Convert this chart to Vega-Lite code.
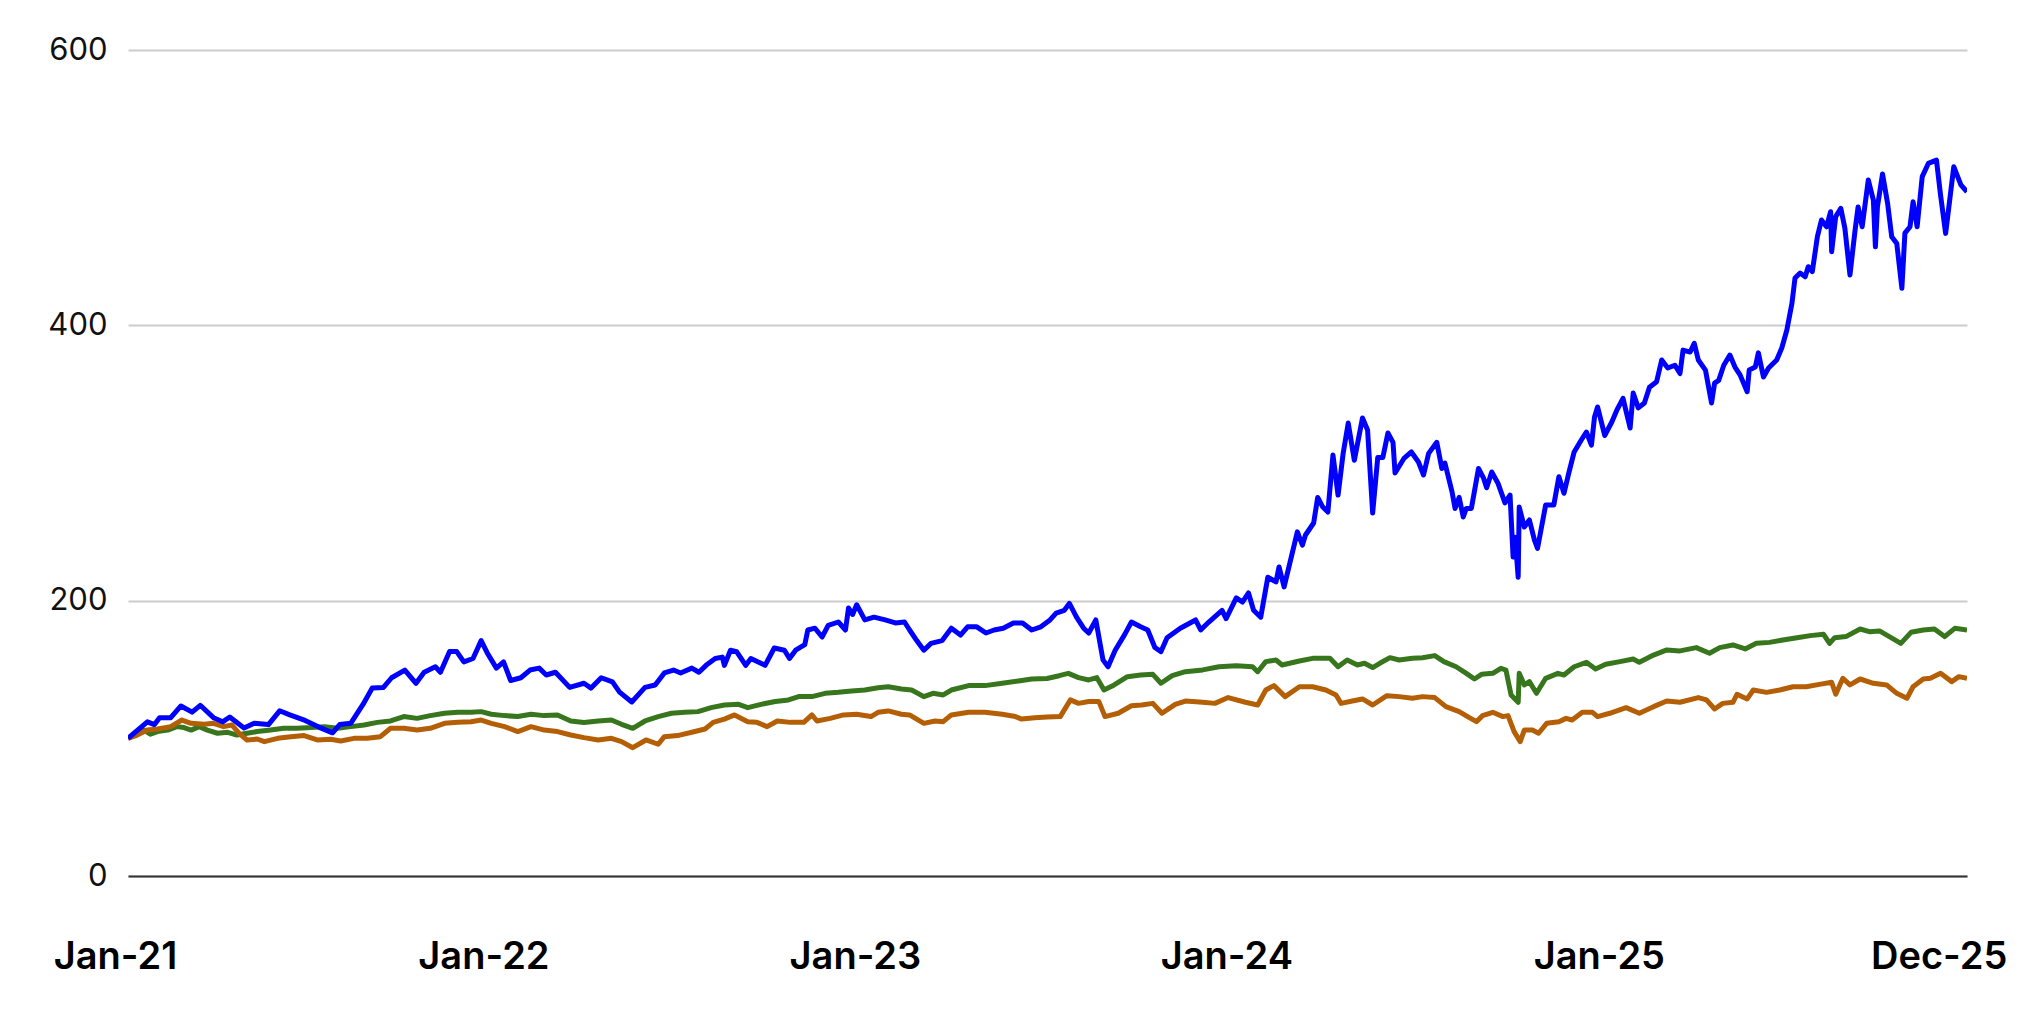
{
  "$schema": "https://vega.github.io/schema/vega-lite/v6.json",
  "width": 1839,
  "height": 826,
  "autosize": "none",
  "padding": {"left": 128, "top": 50, "right": 53, "bottom": 156},
  "background": "white",
  "config": {"view": {"stroke": null}},
  "data": {
    "values": [
      {"date": "2021-01-04", "series": "Series 3", "value": 100},
      {"date": "2021-01-13", "series": "Series 3", "value": 103.7},
      {"date": "2021-01-20", "series": "Series 3", "value": 106},
      {"date": "2021-01-26", "series": "Series 3", "value": 103},
      {"date": "2021-02-02", "series": "Series 3", "value": 104.9},
      {"date": "2021-02-12", "series": "Series 3", "value": 106},
      {"date": "2021-02-21", "series": "Series 3", "value": 108.5},
      {"date": "2021-02-28", "series": "Series 3", "value": 107.8},
      {"date": "2021-03-07", "series": "Series 3", "value": 106},
      {"date": "2021-03-15", "series": "Series 3", "value": 108.5},
      {"date": "2021-03-23", "series": "Series 3", "value": 106},
      {"date": "2021-04-02", "series": "Series 3", "value": 103.7},
      {"date": "2021-04-12", "series": "Series 3", "value": 104.4},
      {"date": "2021-04-21", "series": "Series 3", "value": 102.4},
      {"date": "2021-05-01", "series": "Series 3", "value": 103.7},
      {"date": "2021-05-11", "series": "Series 3", "value": 104.9},
      {"date": "2021-05-24", "series": "Series 3", "value": 106},
      {"date": "2021-06-06", "series": "Series 3", "value": 107.3},
      {"date": "2021-06-19", "series": "Series 3", "value": 107.3},
      {"date": "2021-07-03", "series": "Series 3", "value": 107.8},
      {"date": "2021-07-16", "series": "Series 3", "value": 108.5},
      {"date": "2021-07-29", "series": "Series 3", "value": 107.3},
      {"date": "2021-08-11", "series": "Series 3", "value": 108.5},
      {"date": "2021-08-24", "series": "Series 3", "value": 109.7},
      {"date": "2021-09-06", "series": "Series 3", "value": 111.6},
      {"date": "2021-09-19", "series": "Series 3", "value": 112.6},
      {"date": "2021-10-02", "series": "Series 3", "value": 115.8},
      {"date": "2021-10-15", "series": "Series 3", "value": 114.5},
      {"date": "2021-10-28", "series": "Series 3", "value": 116.5},
      {"date": "2021-11-11", "series": "Series 3", "value": 118.2},
      {"date": "2021-11-24", "series": "Series 3", "value": 118.9},
      {"date": "2021-12-07", "series": "Series 3", "value": 118.9},
      {"date": "2021-12-17", "series": "Series 3", "value": 119.4},
      {"date": "2021-12-27", "series": "Series 3", "value": 117.5},
      {"date": "2022-01-09", "series": "Series 3", "value": 116.5},
      {"date": "2022-01-22", "series": "Series 3", "value": 115.8},
      {"date": "2022-02-04", "series": "Series 3", "value": 117.5},
      {"date": "2022-02-17", "series": "Series 3", "value": 116.5},
      {"date": "2022-03-02", "series": "Series 3", "value": 117},
      {"date": "2022-03-15", "series": "Series 3", "value": 112.6},
      {"date": "2022-03-28", "series": "Series 3", "value": 111.5},
      {"date": "2022-04-11", "series": "Series 3", "value": 112.6},
      {"date": "2022-04-24", "series": "Series 3", "value": 113.3},
      {"date": "2022-05-04", "series": "Series 3", "value": 110.2},
      {"date": "2022-05-15", "series": "Series 3", "value": 107.3},
      {"date": "2022-05-27", "series": "Series 3", "value": 112.6},
      {"date": "2022-06-09", "series": "Series 3", "value": 115.8},
      {"date": "2022-06-22", "series": "Series 3", "value": 118.2},
      {"date": "2022-07-05", "series": "Series 3", "value": 118.9},
      {"date": "2022-07-18", "series": "Series 3", "value": 119.4},
      {"date": "2022-07-31", "series": "Series 3", "value": 122.3},
      {"date": "2022-08-13", "series": "Series 3", "value": 124.2},
      {"date": "2022-08-27", "series": "Series 3", "value": 124.7},
      {"date": "2022-09-05", "series": "Series 3", "value": 122.3},
      {"date": "2022-09-18", "series": "Series 3", "value": 124.7},
      {"date": "2022-10-02", "series": "Series 3", "value": 126.7},
      {"date": "2022-10-15", "series": "Series 3", "value": 127.9},
      {"date": "2022-10-25", "series": "Series 3", "value": 130.3},
      {"date": "2022-11-07", "series": "Series 3", "value": 130.3},
      {"date": "2022-11-20", "series": "Series 3", "value": 132.7},
      {"date": "2022-12-03", "series": "Series 3", "value": 133.4},
      {"date": "2022-12-16", "series": "Series 3", "value": 134.4},
      {"date": "2022-12-29", "series": "Series 3", "value": 135.1},
      {"date": "2023-01-11", "series": "Series 3", "value": 136.8},
      {"date": "2023-01-21", "series": "Series 3", "value": 137.5},
      {"date": "2023-02-03", "series": "Series 3", "value": 135.9},
      {"date": "2023-02-13", "series": "Series 3", "value": 135.1},
      {"date": "2023-02-25", "series": "Series 3", "value": 130.3},
      {"date": "2023-03-06", "series": "Series 3", "value": 132.7},
      {"date": "2023-03-16", "series": "Series 3", "value": 131.5},
      {"date": "2023-03-24", "series": "Series 3", "value": 135.1},
      {"date": "2023-04-10", "series": "Series 3", "value": 138.3},
      {"date": "2023-04-26", "series": "Series 3", "value": 138.3},
      {"date": "2023-05-13", "series": "Series 3", "value": 140},
      {"date": "2023-05-29", "series": "Series 3", "value": 141.7},
      {"date": "2023-06-11", "series": "Series 3", "value": 143.1},
      {"date": "2023-06-26", "series": "Series 3", "value": 143.5},
      {"date": "2023-07-08", "series": "Series 3", "value": 145.5},
      {"date": "2023-07-17", "series": "Series 3", "value": 147.2},
      {"date": "2023-07-27", "series": "Series 3", "value": 144.1},
      {"date": "2023-08-06", "series": "Series 3", "value": 142.4},
      {"date": "2023-08-14", "series": "Series 3", "value": 144.1},
      {"date": "2023-08-21", "series": "Series 3", "value": 135.1},
      {"date": "2023-08-31", "series": "Series 3", "value": 138.8},
      {"date": "2023-09-13", "series": "Series 3", "value": 144.8},
      {"date": "2023-09-26", "series": "Series 3", "value": 146},
      {"date": "2023-10-08", "series": "Series 3", "value": 146.5},
      {"date": "2023-10-16", "series": "Series 3", "value": 140},
      {"date": "2023-10-27", "series": "Series 3", "value": 145.5},
      {"date": "2023-11-09", "series": "Series 3", "value": 148.4},
      {"date": "2023-11-26", "series": "Series 3", "value": 149.7},
      {"date": "2023-12-12", "series": "Series 3", "value": 152},
      {"date": "2023-12-29", "series": "Series 3", "value": 152.8},
      {"date": "2024-01-14", "series": "Series 3", "value": 152},
      {"date": "2024-01-19", "series": "Series 3", "value": 148.4},
      {"date": "2024-01-27", "series": "Series 3", "value": 155.7},
      {"date": "2024-02-06", "series": "Series 3", "value": 156.9},
      {"date": "2024-02-12", "series": "Series 3", "value": 153.3},
      {"date": "2024-02-29", "series": "Series 3", "value": 156.2},
      {"date": "2024-03-13", "series": "Series 3", "value": 158.1},
      {"date": "2024-03-30", "series": "Series 3", "value": 158.1},
      {"date": "2024-04-07", "series": "Series 3", "value": 152},
      {"date": "2024-04-16", "series": "Series 3", "value": 156.9},
      {"date": "2024-04-26", "series": "Series 3", "value": 153.3},
      {"date": "2024-05-03", "series": "Series 3", "value": 154.5},
      {"date": "2024-05-11", "series": "Series 3", "value": 151.4},
      {"date": "2024-05-18", "series": "Series 3", "value": 154.5},
      {"date": "2024-05-28", "series": "Series 3", "value": 158.6},
      {"date": "2024-06-06", "series": "Series 3", "value": 156.9},
      {"date": "2024-06-19", "series": "Series 3", "value": 158.1},
      {"date": "2024-06-29", "series": "Series 3", "value": 158.6},
      {"date": "2024-07-11", "series": "Series 3", "value": 160.1},
      {"date": "2024-07-20", "series": "Series 3", "value": 155.7},
      {"date": "2024-08-01", "series": "Series 3", "value": 152},
      {"date": "2024-08-11", "series": "Series 3", "value": 147.2},
      {"date": "2024-08-19", "series": "Series 3", "value": 143.1},
      {"date": "2024-08-26", "series": "Series 3", "value": 146.5},
      {"date": "2024-09-06", "series": "Series 3", "value": 147.2},
      {"date": "2024-09-14", "series": "Series 3", "value": 150.9},
      {"date": "2024-09-19", "series": "Series 3", "value": 149.5},
      {"date": "2024-09-24", "series": "Series 3", "value": 131.5},
      {"date": "2024-10-01", "series": "Series 3", "value": 126.2},
      {"date": "2024-10-02", "series": "Series 3", "value": 147.2},
      {"date": "2024-10-07", "series": "Series 3", "value": 138.8},
      {"date": "2024-10-12", "series": "Series 3", "value": 141.2},
      {"date": "2024-10-19", "series": "Series 3", "value": 132.7},
      {"date": "2024-10-28", "series": "Series 3", "value": 143.6},
      {"date": "2024-11-09", "series": "Series 3", "value": 147.2},
      {"date": "2024-11-15", "series": "Series 3", "value": 146},
      {"date": "2024-11-25", "series": "Series 3", "value": 152},
      {"date": "2024-12-07", "series": "Series 3", "value": 155.2},
      {"date": "2024-12-16", "series": "Series 3", "value": 150.4},
      {"date": "2024-12-26", "series": "Series 3", "value": 153.8},
      {"date": "2025-01-09", "series": "Series 3", "value": 155.7},
      {"date": "2025-01-22", "series": "Series 3", "value": 157.6},
      {"date": "2025-01-28", "series": "Series 3", "value": 155.2},
      {"date": "2025-02-11", "series": "Series 3", "value": 160.5},
      {"date": "2025-02-24", "series": "Series 3", "value": 164.2},
      {"date": "2025-03-09", "series": "Series 3", "value": 163.5},
      {"date": "2025-03-25", "series": "Series 3", "value": 165.9},
      {"date": "2025-04-07", "series": "Series 3", "value": 161.8},
      {"date": "2025-04-17", "series": "Series 3", "value": 165.9},
      {"date": "2025-04-30", "series": "Series 3", "value": 167.8},
      {"date": "2025-05-12", "series": "Series 3", "value": 164.9},
      {"date": "2025-05-23", "series": "Series 3", "value": 169},
      {"date": "2025-06-05", "series": "Series 3", "value": 169.7},
      {"date": "2025-06-18", "series": "Series 3", "value": 171.4},
      {"date": "2025-07-02", "series": "Series 3", "value": 173.1},
      {"date": "2025-07-15", "series": "Series 3", "value": 174.6},
      {"date": "2025-07-28", "series": "Series 3", "value": 175.6},
      {"date": "2025-08-03", "series": "Series 3", "value": 169},
      {"date": "2025-08-08", "series": "Series 3", "value": 173.1},
      {"date": "2025-08-19", "series": "Series 3", "value": 173.9},
      {"date": "2025-09-02", "series": "Series 3", "value": 179.4},
      {"date": "2025-09-11", "series": "Series 3", "value": 177.5},
      {"date": "2025-09-21", "series": "Series 3", "value": 178},
      {"date": "2025-09-29", "series": "Series 3", "value": 174.6},
      {"date": "2025-10-12", "series": "Series 3", "value": 169},
      {"date": "2025-10-22", "series": "Series 3", "value": 177},
      {"date": "2025-11-03", "series": "Series 3", "value": 178.7},
      {"date": "2025-11-14", "series": "Series 3", "value": 179.4},
      {"date": "2025-11-24", "series": "Series 3", "value": 173.9},
      {"date": "2025-12-04", "series": "Series 3", "value": 179.9},
      {"date": "2025-12-16", "series": "Series 3", "value": 178.7},

      {"date": "2021-01-04", "series": "Series 2", "value": 100},
      {"date": "2021-01-13", "series": "Series 2", "value": 102.4},
      {"date": "2021-01-23", "series": "Series 2", "value": 106},
      {"date": "2021-02-02", "series": "Series 2", "value": 106.8},
      {"date": "2021-02-15", "series": "Series 2", "value": 108.5},
      {"date": "2021-02-26", "series": "Series 2", "value": 113.3},
      {"date": "2021-03-07", "series": "Series 2", "value": 110.9},
      {"date": "2021-03-20", "series": "Series 2", "value": 110.2},
      {"date": "2021-03-29", "series": "Series 2", "value": 110.9},
      {"date": "2021-04-08", "series": "Series 2", "value": 108.5},
      {"date": "2021-04-16", "series": "Series 2", "value": 109.7},
      {"date": "2021-04-23", "series": "Series 2", "value": 103.7},
      {"date": "2021-05-01", "series": "Series 2", "value": 98.8},
      {"date": "2021-05-11", "series": "Series 2", "value": 99.5},
      {"date": "2021-05-18", "series": "Series 2", "value": 97.6},
      {"date": "2021-05-31", "series": "Series 2", "value": 100},
      {"date": "2021-06-13", "series": "Series 2", "value": 101.2},
      {"date": "2021-06-26", "series": "Series 2", "value": 102},
      {"date": "2021-07-09", "series": "Series 2", "value": 98.8},
      {"date": "2021-07-22", "series": "Series 2", "value": 99.3},
      {"date": "2021-08-01", "series": "Series 2", "value": 98.1},
      {"date": "2021-08-14", "series": "Series 2", "value": 100},
      {"date": "2021-08-27", "series": "Series 2", "value": 100},
      {"date": "2021-09-09", "series": "Series 2", "value": 101.2},
      {"date": "2021-09-19", "series": "Series 2", "value": 107.3},
      {"date": "2021-10-02", "series": "Series 2", "value": 107.3},
      {"date": "2021-10-15", "series": "Series 2", "value": 106},
      {"date": "2021-10-28", "series": "Series 2", "value": 107.3},
      {"date": "2021-11-11", "series": "Series 2", "value": 110.9},
      {"date": "2021-11-24", "series": "Series 2", "value": 111.6},
      {"date": "2021-12-07", "series": "Series 2", "value": 112.1},
      {"date": "2021-12-17", "series": "Series 2", "value": 113.3},
      {"date": "2021-12-27", "series": "Series 2", "value": 110.9},
      {"date": "2022-01-09", "series": "Series 2", "value": 108.5},
      {"date": "2022-01-22", "series": "Series 2", "value": 104.9},
      {"date": "2022-02-04", "series": "Series 2", "value": 108.5},
      {"date": "2022-02-17", "series": "Series 2", "value": 106},
      {"date": "2022-03-02", "series": "Series 2", "value": 104.9},
      {"date": "2022-03-15", "series": "Series 2", "value": 102.4},
      {"date": "2022-03-28", "series": "Series 2", "value": 100.5},
      {"date": "2022-04-11", "series": "Series 2", "value": 98.8},
      {"date": "2022-04-24", "series": "Series 2", "value": 100},
      {"date": "2022-05-04", "series": "Series 2", "value": 97.6},
      {"date": "2022-05-15", "series": "Series 2", "value": 93.2},
      {"date": "2022-05-28", "series": "Series 2", "value": 98.8},
      {"date": "2022-06-09", "series": "Series 2", "value": 95.7},
      {"date": "2022-06-15", "series": "Series 2", "value": 101.2},
      {"date": "2022-06-28", "series": "Series 2", "value": 102},
      {"date": "2022-07-12", "series": "Series 2", "value": 104.4},
      {"date": "2022-07-25", "series": "Series 2", "value": 106.8},
      {"date": "2022-08-02", "series": "Series 2", "value": 111.6},
      {"date": "2022-08-13", "series": "Series 2", "value": 114},
      {"date": "2022-08-23", "series": "Series 2", "value": 117},
      {"date": "2022-09-05", "series": "Series 2", "value": 112.1},
      {"date": "2022-09-14", "series": "Series 2", "value": 111.6},
      {"date": "2022-09-24", "series": "Series 2", "value": 108.5},
      {"date": "2022-10-04", "series": "Series 2", "value": 112.6},
      {"date": "2022-10-17", "series": "Series 2", "value": 111.6},
      {"date": "2022-10-30", "series": "Series 2", "value": 111.6},
      {"date": "2022-11-07", "series": "Series 2", "value": 117},
      {"date": "2022-11-12", "series": "Series 2", "value": 112.6},
      {"date": "2022-11-25", "series": "Series 2", "value": 114.5},
      {"date": "2022-12-08", "series": "Series 2", "value": 117},
      {"date": "2022-12-21", "series": "Series 2", "value": 117.5},
      {"date": "2023-01-04", "series": "Series 2", "value": 115.8},
      {"date": "2023-01-11", "series": "Series 2", "value": 118.9},
      {"date": "2023-01-21", "series": "Series 2", "value": 119.9},
      {"date": "2023-02-03", "series": "Series 2", "value": 117.5},
      {"date": "2023-02-11", "series": "Series 2", "value": 117},
      {"date": "2023-02-25", "series": "Series 2", "value": 110.9},
      {"date": "2023-03-08", "series": "Series 2", "value": 112.6},
      {"date": "2023-03-16", "series": "Series 2", "value": 112.1},
      {"date": "2023-03-24", "series": "Series 2", "value": 117},
      {"date": "2023-04-10", "series": "Series 2", "value": 118.9},
      {"date": "2023-04-26", "series": "Series 2", "value": 118.9},
      {"date": "2023-05-13", "series": "Series 2", "value": 117.5},
      {"date": "2023-05-26", "series": "Series 2", "value": 115.8},
      {"date": "2023-06-01", "series": "Series 2", "value": 114},
      {"date": "2023-06-14", "series": "Series 2", "value": 115},
      {"date": "2023-06-26", "series": "Series 2", "value": 115.5},
      {"date": "2023-07-09", "series": "Series 2", "value": 115.8},
      {"date": "2023-07-19", "series": "Series 2", "value": 127.9},
      {"date": "2023-07-27", "series": "Series 2", "value": 125.4},
      {"date": "2023-08-06", "series": "Series 2", "value": 126.7},
      {"date": "2023-08-16", "series": "Series 2", "value": 126.7},
      {"date": "2023-08-22", "series": "Series 2", "value": 115.8},
      {"date": "2023-09-04", "series": "Series 2", "value": 118.2},
      {"date": "2023-09-17", "series": "Series 2", "value": 123.7},
      {"date": "2023-09-27", "series": "Series 2", "value": 124.2},
      {"date": "2023-10-08", "series": "Series 2", "value": 125.4},
      {"date": "2023-10-17", "series": "Series 2", "value": 118.2},
      {"date": "2023-10-30", "series": "Series 2", "value": 124.7},
      {"date": "2023-11-09", "series": "Series 2", "value": 127.1},
      {"date": "2023-11-26", "series": "Series 2", "value": 126.2},
      {"date": "2023-12-08", "series": "Series 2", "value": 125.4},
      {"date": "2023-12-21", "series": "Series 2", "value": 129.6},
      {"date": "2024-01-07", "series": "Series 2", "value": 126.2},
      {"date": "2024-01-19", "series": "Series 2", "value": 124.2},
      {"date": "2024-01-27", "series": "Series 2", "value": 135.1},
      {"date": "2024-02-04", "series": "Series 2", "value": 138.3},
      {"date": "2024-02-15", "series": "Series 2", "value": 130.3},
      {"date": "2024-02-29", "series": "Series 2", "value": 137.5},
      {"date": "2024-03-13", "series": "Series 2", "value": 137.5},
      {"date": "2024-03-26", "series": "Series 2", "value": 135.1},
      {"date": "2024-04-05", "series": "Series 2", "value": 131.5},
      {"date": "2024-04-10", "series": "Series 2", "value": 125.4},
      {"date": "2024-04-21", "series": "Series 2", "value": 127.1},
      {"date": "2024-05-01", "series": "Series 2", "value": 128.6},
      {"date": "2024-05-11", "series": "Series 2", "value": 124.2},
      {"date": "2024-05-25", "series": "Series 2", "value": 131},
      {"date": "2024-06-06", "series": "Series 2", "value": 130.3},
      {"date": "2024-06-19", "series": "Series 2", "value": 129.1},
      {"date": "2024-06-29", "series": "Series 2", "value": 130.3},
      {"date": "2024-07-11", "series": "Series 2", "value": 129.6},
      {"date": "2024-07-22", "series": "Series 2", "value": 123},
      {"date": "2024-08-04", "series": "Series 2", "value": 119.4},
      {"date": "2024-08-14", "series": "Series 2", "value": 115},
      {"date": "2024-08-21", "series": "Series 2", "value": 112.1},
      {"date": "2024-08-27", "series": "Series 2", "value": 116.5},
      {"date": "2024-09-06", "series": "Series 2", "value": 118.9},
      {"date": "2024-09-16", "series": "Series 2", "value": 115.8},
      {"date": "2024-09-21", "series": "Series 2", "value": 116.5},
      {"date": "2024-09-27", "series": "Series 2", "value": 104.9},
      {"date": "2024-10-03", "series": "Series 2", "value": 97.6},
      {"date": "2024-10-07", "series": "Series 2", "value": 106},
      {"date": "2024-10-15", "series": "Series 2", "value": 106},
      {"date": "2024-10-21", "series": "Series 2", "value": 103.7},
      {"date": "2024-10-29", "series": "Series 2", "value": 110.9},
      {"date": "2024-11-10", "series": "Series 2", "value": 112.1},
      {"date": "2024-11-17", "series": "Series 2", "value": 114.5},
      {"date": "2024-11-23", "series": "Series 2", "value": 113.3},
      {"date": "2024-12-03", "series": "Series 2", "value": 118.9},
      {"date": "2024-12-13", "series": "Series 2", "value": 118.9},
      {"date": "2024-12-18", "series": "Series 2", "value": 115.8},
      {"date": "2024-12-30", "series": "Series 2", "value": 118.2},
      {"date": "2025-01-15", "series": "Series 2", "value": 122.3},
      {"date": "2025-01-28", "series": "Series 2", "value": 118.2},
      {"date": "2025-02-11", "series": "Series 2", "value": 123},
      {"date": "2025-02-24", "series": "Series 2", "value": 127.1},
      {"date": "2025-03-09", "series": "Series 2", "value": 126.2},
      {"date": "2025-03-27", "series": "Series 2", "value": 129.6},
      {"date": "2025-04-04", "series": "Series 2", "value": 127.9},
      {"date": "2025-04-12", "series": "Series 2", "value": 121.3},
      {"date": "2025-04-20", "series": "Series 2", "value": 125.4},
      {"date": "2025-04-30", "series": "Series 2", "value": 126.2},
      {"date": "2025-05-04", "series": "Series 2", "value": 132},
      {"date": "2025-05-14", "series": "Series 2", "value": 128.6},
      {"date": "2025-05-20", "series": "Series 2", "value": 135.1},
      {"date": "2025-06-02", "series": "Series 2", "value": 133.4},
      {"date": "2025-06-15", "series": "Series 2", "value": 135.1},
      {"date": "2025-06-28", "series": "Series 2", "value": 137.5},
      {"date": "2025-07-11", "series": "Series 2", "value": 137.5},
      {"date": "2025-07-24", "series": "Series 2", "value": 139.2},
      {"date": "2025-08-05", "series": "Series 2", "value": 140.7},
      {"date": "2025-08-09", "series": "Series 2", "value": 132},
      {"date": "2025-08-16", "series": "Series 2", "value": 143.6},
      {"date": "2025-08-23", "series": "Series 2", "value": 138.8},
      {"date": "2025-09-02", "series": "Series 2", "value": 143.1},
      {"date": "2025-09-15", "series": "Series 2", "value": 140},
      {"date": "2025-09-28", "series": "Series 2", "value": 138.8},
      {"date": "2025-10-08", "series": "Series 2", "value": 132.7},
      {"date": "2025-10-18", "series": "Series 2", "value": 129.1},
      {"date": "2025-10-24", "series": "Series 2", "value": 137.5},
      {"date": "2025-11-03", "series": "Series 2", "value": 143.1},
      {"date": "2025-11-10", "series": "Series 2", "value": 143.6},
      {"date": "2025-11-20", "series": "Series 2", "value": 147.2},
      {"date": "2025-12-01", "series": "Series 2", "value": 141.2},
      {"date": "2025-12-08", "series": "Series 2", "value": 144.8},
      {"date": "2025-12-16", "series": "Series 2", "value": 143.6},

      {"date": "2021-01-04", "series": "Series 1", "value": 100},
      {"date": "2021-01-23", "series": "Series 1", "value": 112},
      {"date": "2021-01-30", "series": "Series 1", "value": 110},
      {"date": "2021-02-04", "series": "Series 1", "value": 115},
      {"date": "2021-02-15", "series": "Series 1", "value": 115},
      {"date": "2021-02-25", "series": "Series 1", "value": 123.5},
      {"date": "2021-03-08", "series": "Series 1", "value": 119},
      {"date": "2021-03-16", "series": "Series 1", "value": 124},
      {"date": "2021-03-29", "series": "Series 1", "value": 115},
      {"date": "2021-04-07", "series": "Series 1", "value": 112},
      {"date": "2021-04-14", "series": "Series 1", "value": 115.5},
      {"date": "2021-04-28", "series": "Series 1", "value": 107.5},
      {"date": "2021-05-08", "series": "Series 1", "value": 111},
      {"date": "2021-05-22", "series": "Series 1", "value": 110},
      {"date": "2021-06-02", "series": "Series 1", "value": 120},
      {"date": "2021-06-12", "series": "Series 1", "value": 117},
      {"date": "2021-06-27", "series": "Series 1", "value": 113},
      {"date": "2021-07-11", "series": "Series 1", "value": 108},
      {"date": "2021-07-24", "series": "Series 1", "value": 104},
      {"date": "2021-07-31", "series": "Series 1", "value": 110},
      {"date": "2021-08-11", "series": "Series 1", "value": 111},
      {"date": "2021-08-24", "series": "Series 1", "value": 126},
      {"date": "2021-09-01", "series": "Series 1", "value": 136.5},
      {"date": "2021-09-12", "series": "Series 1", "value": 137},
      {"date": "2021-09-20", "series": "Series 1", "value": 144},
      {"date": "2021-10-03", "series": "Series 1", "value": 149.6},
      {"date": "2021-10-14", "series": "Series 1", "value": 140},
      {"date": "2021-10-22", "series": "Series 1", "value": 148},
      {"date": "2021-11-02", "series": "Series 1", "value": 152},
      {"date": "2021-11-07", "series": "Series 1", "value": 148},
      {"date": "2021-11-16", "series": "Series 1", "value": 163},
      {"date": "2021-11-23", "series": "Series 1", "value": 163},
      {"date": "2021-11-30", "series": "Series 1", "value": 155.5},
      {"date": "2021-12-09", "series": "Series 1", "value": 158},
      {"date": "2021-12-17", "series": "Series 1", "value": 171},
      {"date": "2021-12-23", "series": "Series 1", "value": 162},
      {"date": "2022-01-01", "series": "Series 1", "value": 151},
      {"date": "2022-01-08", "series": "Series 1", "value": 155.5},
      {"date": "2022-01-15", "series": "Series 1", "value": 142},
      {"date": "2022-01-25", "series": "Series 1", "value": 144},
      {"date": "2022-02-03", "series": "Series 1", "value": 149.6},
      {"date": "2022-02-12", "series": "Series 1", "value": 151},
      {"date": "2022-02-19", "series": "Series 1", "value": 146},
      {"date": "2022-02-28", "series": "Series 1", "value": 148},
      {"date": "2022-03-14", "series": "Series 1", "value": 137},
      {"date": "2022-03-28", "series": "Series 1", "value": 140},
      {"date": "2022-04-04", "series": "Series 1", "value": 136.5},
      {"date": "2022-04-14", "series": "Series 1", "value": 144},
      {"date": "2022-04-25", "series": "Series 1", "value": 141},
      {"date": "2022-05-02", "series": "Series 1", "value": 133.6},
      {"date": "2022-05-14", "series": "Series 1", "value": 126.4},
      {"date": "2022-05-27", "series": "Series 1", "value": 137},
      {"date": "2022-06-06", "series": "Series 1", "value": 138.7},
      {"date": "2022-06-15", "series": "Series 1", "value": 147.5},
      {"date": "2022-06-24", "series": "Series 1", "value": 149.6},
      {"date": "2022-07-01", "series": "Series 1", "value": 147.5},
      {"date": "2022-07-12", "series": "Series 1", "value": 151},
      {"date": "2022-07-19", "series": "Series 1", "value": 148},
      {"date": "2022-07-26", "series": "Series 1", "value": 153},
      {"date": "2022-08-04", "series": "Series 1", "value": 158},
      {"date": "2022-08-11", "series": "Series 1", "value": 159},
      {"date": "2022-08-13", "series": "Series 1", "value": 153},
      {"date": "2022-08-19", "series": "Series 1", "value": 164},
      {"date": "2022-08-25", "series": "Series 1", "value": 163},
      {"date": "2022-09-03", "series": "Series 1", "value": 153},
      {"date": "2022-09-08", "series": "Series 1", "value": 158},
      {"date": "2022-09-22", "series": "Series 1", "value": 153},
      {"date": "2022-10-01", "series": "Series 1", "value": 165.6},
      {"date": "2022-10-11", "series": "Series 1", "value": 164},
      {"date": "2022-10-16", "series": "Series 1", "value": 158},
      {"date": "2022-10-22", "series": "Series 1", "value": 164},
      {"date": "2022-10-31", "series": "Series 1", "value": 168},
      {"date": "2022-11-03", "series": "Series 1", "value": 178.7},
      {"date": "2022-11-10", "series": "Series 1", "value": 180},
      {"date": "2022-11-17", "series": "Series 1", "value": 173.6},
      {"date": "2022-11-23", "series": "Series 1", "value": 182},
      {"date": "2022-12-03", "series": "Series 1", "value": 184.5},
      {"date": "2022-12-10", "series": "Series 1", "value": 178.7},
      {"date": "2022-12-13", "series": "Series 1", "value": 194.7},
      {"date": "2022-12-17", "series": "Series 1", "value": 190},
      {"date": "2022-12-21", "series": "Series 1", "value": 197},
      {"date": "2022-12-29", "series": "Series 1", "value": 186},
      {"date": "2023-01-07", "series": "Series 1", "value": 188},
      {"date": "2023-01-18", "series": "Series 1", "value": 186},
      {"date": "2023-01-28", "series": "Series 1", "value": 183.8},
      {"date": "2023-02-06", "series": "Series 1", "value": 184.5},
      {"date": "2023-02-11", "series": "Series 1", "value": 178.7},
      {"date": "2023-02-18", "series": "Series 1", "value": 171},
      {"date": "2023-02-25", "series": "Series 1", "value": 164},
      {"date": "2023-03-04", "series": "Series 1", "value": 169},
      {"date": "2023-03-15", "series": "Series 1", "value": 171},
      {"date": "2023-03-24", "series": "Series 1", "value": 180},
      {"date": "2023-04-02", "series": "Series 1", "value": 175},
      {"date": "2023-04-09", "series": "Series 1", "value": 181},
      {"date": "2023-04-18", "series": "Series 1", "value": 181},
      {"date": "2023-04-27", "series": "Series 1", "value": 176.5},
      {"date": "2023-05-05", "series": "Series 1", "value": 178.7},
      {"date": "2023-05-14", "series": "Series 1", "value": 180},
      {"date": "2023-05-24", "series": "Series 1", "value": 183.8},
      {"date": "2023-06-02", "series": "Series 1", "value": 183.8},
      {"date": "2023-06-11", "series": "Series 1", "value": 178.7},
      {"date": "2023-06-20", "series": "Series 1", "value": 181},
      {"date": "2023-06-29", "series": "Series 1", "value": 186},
      {"date": "2023-07-05", "series": "Series 1", "value": 191},
      {"date": "2023-07-13", "series": "Series 1", "value": 193},
      {"date": "2023-07-18", "series": "Series 1", "value": 198},
      {"date": "2023-07-25", "series": "Series 1", "value": 188},
      {"date": "2023-08-01", "series": "Series 1", "value": 180},
      {"date": "2023-08-06", "series": "Series 1", "value": 176.5},
      {"date": "2023-08-13", "series": "Series 1", "value": 186},
      {"date": "2023-08-20", "series": "Series 1", "value": 157},
      {"date": "2023-08-25", "series": "Series 1", "value": 152},
      {"date": "2023-09-01", "series": "Series 1", "value": 164},
      {"date": "2023-09-10", "series": "Series 1", "value": 175},
      {"date": "2023-09-17", "series": "Series 1", "value": 184.5},
      {"date": "2023-09-26", "series": "Series 1", "value": 181},
      {"date": "2023-10-03", "series": "Series 1", "value": 178.7},
      {"date": "2023-10-10", "series": "Series 1", "value": 166},
      {"date": "2023-10-16", "series": "Series 1", "value": 163},
      {"date": "2023-10-22", "series": "Series 1", "value": 173},
      {"date": "2023-11-04", "series": "Series 1", "value": 180},
      {"date": "2023-11-19", "series": "Series 1", "value": 186},
      {"date": "2023-11-24", "series": "Series 1", "value": 178.7},
      {"date": "2023-12-02", "series": "Series 1", "value": 184.5},
      {"date": "2023-12-15", "series": "Series 1", "value": 193},
      {"date": "2023-12-19", "series": "Series 1", "value": 187},
      {"date": "2023-12-29", "series": "Series 1", "value": 202},
      {"date": "2024-01-04", "series": "Series 1", "value": 199},
      {"date": "2024-01-10", "series": "Series 1", "value": 205.6},
      {"date": "2024-01-15", "series": "Series 1", "value": 193},
      {"date": "2024-01-22", "series": "Series 1", "value": 188},
      {"date": "2024-01-29", "series": "Series 1", "value": 217},
      {"date": "2024-02-06", "series": "Series 1", "value": 213.6},
      {"date": "2024-02-09", "series": "Series 1", "value": 224.5},
      {"date": "2024-02-14", "series": "Series 1", "value": 210},
      {"date": "2024-02-27", "series": "Series 1", "value": 250},
      {"date": "2024-03-03", "series": "Series 1", "value": 240.4},
      {"date": "2024-03-06", "series": "Series 1", "value": 247.7},
      {"date": "2024-03-14", "series": "Series 1", "value": 256.4},
      {"date": "2024-03-18", "series": "Series 1", "value": 275},
      {"date": "2024-03-23", "series": "Series 1", "value": 268},
      {"date": "2024-03-28", "series": "Series 1", "value": 264.4},
      {"date": "2024-04-02", "series": "Series 1", "value": 305.8},
      {"date": "2024-04-07", "series": "Series 1", "value": 276.7},
      {"date": "2024-04-12", "series": "Series 1", "value": 307},
      {"date": "2024-04-17", "series": "Series 1", "value": 329},
      {"date": "2024-04-23", "series": "Series 1", "value": 302},
      {"date": "2024-05-01", "series": "Series 1", "value": 332.7},
      {"date": "2024-05-06", "series": "Series 1", "value": 324},
      {"date": "2024-05-11", "series": "Series 1", "value": 263.7},
      {"date": "2024-05-16", "series": "Series 1", "value": 304},
      {"date": "2024-05-21", "series": "Series 1", "value": 304},
      {"date": "2024-05-26", "series": "Series 1", "value": 321.8},
      {"date": "2024-05-31", "series": "Series 1", "value": 315},
      {"date": "2024-06-02", "series": "Series 1", "value": 292.7},
      {"date": "2024-06-11", "series": "Series 1", "value": 303.6},
      {"date": "2024-06-18", "series": "Series 1", "value": 308},
      {"date": "2024-06-25", "series": "Series 1", "value": 300.7},
      {"date": "2024-06-30", "series": "Series 1", "value": 291.3},
      {"date": "2024-07-05", "series": "Series 1", "value": 307},
      {"date": "2024-07-13", "series": "Series 1", "value": 315},
      {"date": "2024-07-18", "series": "Series 1", "value": 296},
      {"date": "2024-07-21", "series": "Series 1", "value": 300},
      {"date": "2024-07-28", "series": "Series 1", "value": 279},
      {"date": "2024-07-31", "series": "Series 1", "value": 267},
      {"date": "2024-08-04", "series": "Series 1", "value": 275},
      {"date": "2024-08-08", "series": "Series 1", "value": 260.8},
      {"date": "2024-08-11", "series": "Series 1", "value": 267},
      {"date": "2024-08-16", "series": "Series 1", "value": 267},
      {"date": "2024-08-23", "series": "Series 1", "value": 296},
      {"date": "2024-08-28", "series": "Series 1", "value": 289},
      {"date": "2024-08-31", "series": "Series 1", "value": 282},
      {"date": "2024-09-05", "series": "Series 1", "value": 293.5},
      {"date": "2024-09-11", "series": "Series 1", "value": 285.5},
      {"date": "2024-09-18", "series": "Series 1", "value": 271},
      {"date": "2024-09-23", "series": "Series 1", "value": 276.7},
      {"date": "2024-09-26", "series": "Series 1", "value": 231.7},
      {"date": "2024-09-28", "series": "Series 1", "value": 246},
      {"date": "2024-10-01", "series": "Series 1", "value": 217},
      {"date": "2024-10-02", "series": "Series 1", "value": 268},
      {"date": "2024-10-07", "series": "Series 1", "value": 253.5},
      {"date": "2024-10-12", "series": "Series 1", "value": 258.6},
      {"date": "2024-10-17", "series": "Series 1", "value": 244},
      {"date": "2024-10-20", "series": "Series 1", "value": 238},
      {"date": "2024-10-28", "series": "Series 1", "value": 269.5},
      {"date": "2024-11-05", "series": "Series 1", "value": 269.5},
      {"date": "2024-11-10", "series": "Series 1", "value": 290},
      {"date": "2024-11-15", "series": "Series 1", "value": 278},
      {"date": "2024-11-20", "series": "Series 1", "value": 293.5},
      {"date": "2024-11-25", "series": "Series 1", "value": 308},
      {"date": "2024-12-02", "series": "Series 1", "value": 316.7},
      {"date": "2024-12-07", "series": "Series 1", "value": 322.5},
      {"date": "2024-12-12", "series": "Series 1", "value": 313},
      {"date": "2024-12-15", "series": "Series 1", "value": 333.4},
      {"date": "2024-12-18", "series": "Series 1", "value": 340.7},
      {"date": "2024-12-25", "series": "Series 1", "value": 320},
      {"date": "2025-01-01", "series": "Series 1", "value": 329.8},
      {"date": "2025-01-06", "series": "Series 1", "value": 338.5},
      {"date": "2025-01-12", "series": "Series 1", "value": 347},
      {"date": "2025-01-19", "series": "Series 1", "value": 325.4},
      {"date": "2025-01-22", "series": "Series 1", "value": 350.8},
      {"date": "2025-01-27", "series": "Series 1", "value": 340},
      {"date": "2025-02-02", "series": "Series 1", "value": 343.6},
      {"date": "2025-02-07", "series": "Series 1", "value": 355},
      {"date": "2025-02-14", "series": "Series 1", "value": 359},
      {"date": "2025-02-19", "series": "Series 1", "value": 374.8},
      {"date": "2025-02-25", "series": "Series 1", "value": 369},
      {"date": "2025-03-04", "series": "Series 1", "value": 371},
      {"date": "2025-03-09", "series": "Series 1", "value": 365},
      {"date": "2025-03-12", "series": "Series 1", "value": 382},
      {"date": "2025-03-19", "series": "Series 1", "value": 380.6},
      {"date": "2025-03-23", "series": "Series 1", "value": 387},
      {"date": "2025-03-27", "series": "Series 1", "value": 374.8},
      {"date": "2025-04-03", "series": "Series 1", "value": 367.5},
      {"date": "2025-04-09", "series": "Series 1", "value": 343.6},
      {"date": "2025-04-12", "series": "Series 1", "value": 358},
      {"date": "2025-04-16", "series": "Series 1", "value": 360},
      {"date": "2025-04-21", "series": "Series 1", "value": 371},
      {"date": "2025-04-27", "series": "Series 1", "value": 378.4},
      {"date": "2025-05-02", "series": "Series 1", "value": 369.7},
      {"date": "2025-05-07", "series": "Series 1", "value": 364},
      {"date": "2025-05-14", "series": "Series 1", "value": 351.8},
      {"date": "2025-05-16", "series": "Series 1", "value": 367.5},
      {"date": "2025-05-22", "series": "Series 1", "value": 369.7},
      {"date": "2025-05-25", "series": "Series 1", "value": 380},
      {"date": "2025-05-30", "series": "Series 1", "value": 362.5},
      {"date": "2025-06-04", "series": "Series 1", "value": 369},
      {"date": "2025-06-12", "series": "Series 1", "value": 374.8},
      {"date": "2025-06-17", "series": "Series 1", "value": 383.5},
      {"date": "2025-06-22", "series": "Series 1", "value": 396.6},
      {"date": "2025-06-27", "series": "Series 1", "value": 416},
      {"date": "2025-06-30", "series": "Series 1", "value": 434.4},
      {"date": "2025-07-05", "series": "Series 1", "value": 438},
      {"date": "2025-07-10", "series": "Series 1", "value": 435.3},
      {"date": "2025-07-13", "series": "Series 1", "value": 442.6},
      {"date": "2025-07-17", "series": "Series 1", "value": 439},
      {"date": "2025-07-22", "series": "Series 1", "value": 464.4},
      {"date": "2025-07-26", "series": "Series 1", "value": 476.5},
      {"date": "2025-07-31", "series": "Series 1", "value": 471.6},
      {"date": "2025-08-04", "series": "Series 1", "value": 482.5},
      {"date": "2025-08-05", "series": "Series 1", "value": 453.5},
      {"date": "2025-08-09", "series": "Series 1", "value": 479},
      {"date": "2025-08-14", "series": "Series 1", "value": 485},
      {"date": "2025-08-18", "series": "Series 1", "value": 470.5},
      {"date": "2025-08-23", "series": "Series 1", "value": 436.5},
      {"date": "2025-08-28", "series": "Series 1", "value": 469},
      {"date": "2025-08-31", "series": "Series 1", "value": 486},
      {"date": "2025-09-04", "series": "Series 1", "value": 471.6},
      {"date": "2025-09-10", "series": "Series 1", "value": 505.6},
      {"date": "2025-09-15", "series": "Series 1", "value": 491},
      {"date": "2025-09-17", "series": "Series 1", "value": 457},
      {"date": "2025-09-19", "series": "Series 1", "value": 486},
      {"date": "2025-09-24", "series": "Series 1", "value": 510},
      {"date": "2025-09-29", "series": "Series 1", "value": 488.5},
      {"date": "2025-10-03", "series": "Series 1", "value": 464.4},
      {"date": "2025-10-08", "series": "Series 1", "value": 459.5},
      {"date": "2025-10-13", "series": "Series 1", "value": 426.9},
      {"date": "2025-10-16", "series": "Series 1", "value": 467},
      {"date": "2025-10-21", "series": "Series 1", "value": 471.6},
      {"date": "2025-10-24", "series": "Series 1", "value": 489.8},
      {"date": "2025-10-28", "series": "Series 1", "value": 471.6},
      {"date": "2025-11-02", "series": "Series 1", "value": 508},
      {"date": "2025-11-08", "series": "Series 1", "value": 517.6},
      {"date": "2025-11-16", "series": "Series 1", "value": 520},
      {"date": "2025-11-20", "series": "Series 1", "value": 494.7},
      {"date": "2025-11-25", "series": "Series 1", "value": 466.8},
      {"date": "2025-12-03", "series": "Series 1", "value": 515.2},
      {"date": "2025-12-10", "series": "Series 1", "value": 502},
      {"date": "2025-12-16", "series": "Series 1", "value": 497}
    ]
  },
  "mark": {"type": "line", "strokeWidth": 5, "strokeJoin": "round", "clip": true},
  "encoding": {
    "x": {
      "field": "date",
      "type": "temporal",
      "title": null,
      "scale": {
        "type": "utc",
        "nice": false,
        "domain": [
          {"year": 2021, "month": 1, "date": 4, "utc": true},
          {"year": 2025, "month": 12, "date": 16, "utc": true}
        ]
      },
      "axis": {
        "values": [
          {"year": 2021, "month": 1, "date": 4, "utc": true},
          {"year": 2022, "month": 1, "date": 1, "utc": true},
          {"year": 2023, "month": 1, "date": 1, "utc": true},
          {"year": 2024, "month": 1, "date": 1, "utc": true},
          {"year": 2025, "month": 1, "date": 1, "utc": true},
          {"year": 2025, "month": 12, "date": 1, "utc": true}
        ],
        "format": "%b-%y",
        "grid": false,
        "ticks": false,
        "domain": true,
        "domainColor": "#333333",
        "domainWidth": 2,
        "labelFont": "Inter",
        "labelFontSize": 38,
        "labelFontWeight": 600,
        "labelColor": "#000000",
        "labelPadding": 62,
        "labelOffset": -13,
        "labelFlush": false,
        "labelOverlap": false,
        "labelBound": false
      }
    },
    "y": {
      "field": "value",
      "type": "quantitative",
      "title": null,
      "scale": {"domain": [0, 600], "nice": false},
      "axis": {
        "values": [0, 200, 400, 600],
        "grid": true,
        "gridColor": "#cccccc",
        "gridWidth": 2,
        "domain": false,
        "ticks": false,
        "labelFont": "Inter",
        "labelFontSize": 31,
        "labelColor": "#111111",
        "labelPadding": 21
      }
    },
    "color": {
      "field": "series",
      "type": "nominal",
      "scale": {
        "domain": ["Series 1", "Series 2", "Series 3"],
        "range": ["#0000ff", "#b45f06", "#38761d"]
      },
      "legend": null
    }
  }
}
